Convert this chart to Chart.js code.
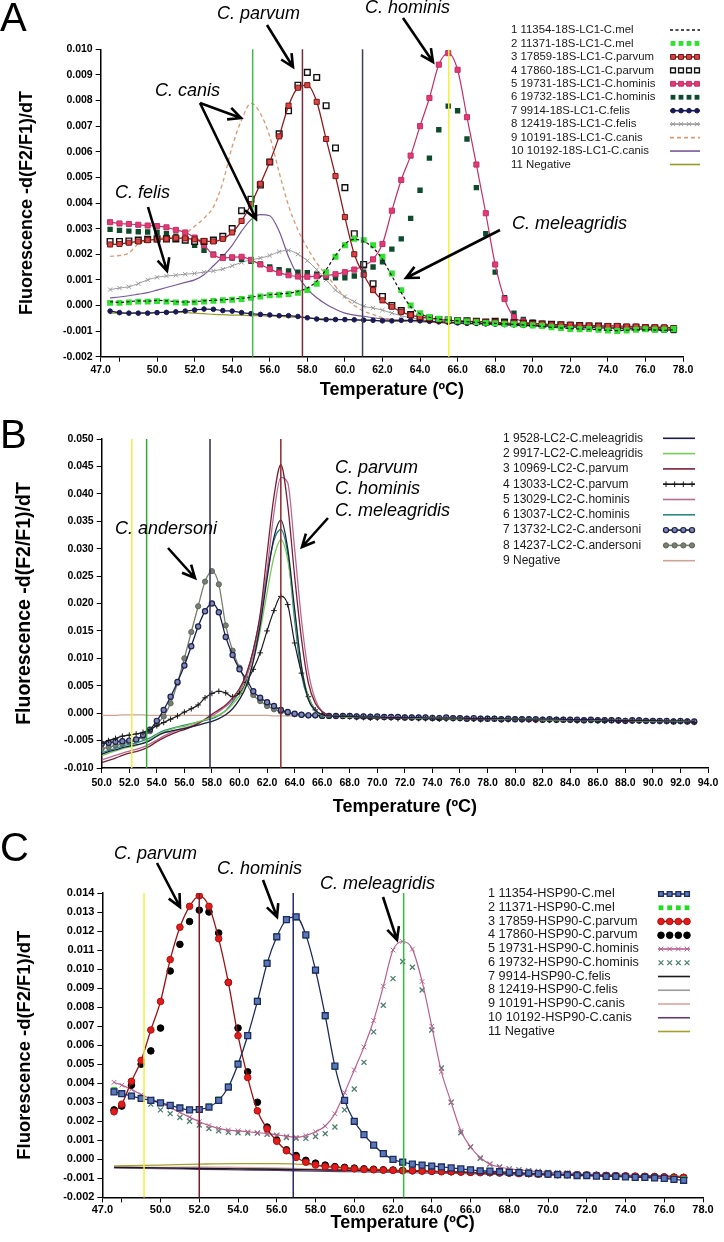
<!DOCTYPE html>
<html lang="en">
<head>
<meta charset="utf-8">
<title>Melting curve analysis</title>
<script src="https://cdn.jsdelivr.net/npm/chart.js@4.4.1/dist/chart.umd.min.js"></script>
<style>
  html, body { margin: 0; padding: 0; background: #fff; }
  body { position: relative; width: 724px; height: 1242px; overflow: hidden;
         font-family: 'Liberation Sans', Arial, sans-serif; color: #000; }
  canvas { position: absolute; left: 0; }
  .letter { position: absolute; left: 0; font-size: 40px; line-height: 40px; }
  .note { position: absolute; font-style: italic; font-size: 18px; line-height: 20px; white-space: nowrap; }
  .legend { position: absolute; white-space: nowrap; color: #1a1a1a; }
</style>
</head>
<body>
<canvas id="chartA" width="724" height="420" style="top:0"></canvas>
<canvas id="chartB" width="724" height="410" style="top:420px"></canvas>
<canvas id="chartC" width="724" height="412" style="top:830px"></canvas>
<div class="letter" style="top:-3px">A</div>
<div class="letter" style="top:414px">B</div>
<div class="letter" style="top:827px">C</div>
<script>
// all curve values are -d(F2/F1)/dT, in units of 0.001

// ---------- Panel A : 18S LC1 ----------
const tempsA = [
  47.5, 48, 48.5, 49, 49.5, 50, 50.5, 51, 51.5, 52,
  52.5, 53, 53.5, 54, 54.5, 55, 55.5, 56, 56.5, 57,
  57.5, 58, 58.5, 59, 59.5, 60, 60.5, 61, 61.5, 62,
  62.5, 63, 63.5, 64, 64.5, 65, 65.5, 66, 66.5, 67,
  67.5, 68, 68.5, 69, 69.5, 70, 70.5, 71, 71.5, 72,
  72.5, 73, 73.5, 74, 74.5, 75, 75.5, 76, 76.5, 77,
  77.5
];
const labelsA = [
  '1 11354-18S-LC1-C.mel', '2 11371-18S-LC1-C.mel', '3 17859-18S-LC1-C.parvum',
  '4 17860-18S-LC1-C.parvum', '5 19731-18S-LC1-C.hominis', '6 19732-18S-LC1-C.hominis',
  '7 9914-18S-LC1-C.felis', '8 12419-18S-LC1-C.felis', '9 10191-18S-LC1-C.canis',
  '10 10192-18S-LC1-C.canis', '11 Negative'
];
const melA1 = [
  0.15, 0.12, 0.15, 0.18, 0.17, 0.20, 0.18, 0.15, 0.13, 0.15,
  0.18, 0.20, 0.22, 0.25, 0.28, 0.32, 0.38, 0.42, 0.45, 0.48,
  0.55, 0.68, 0.95, 1.40, 1.95, 2.40, 2.58, 2.50, 2.25, 1.80,
  1.15, 0.50, -0.05, -0.32, -0.46, -0.53, -0.57, -0.60, -0.63, -0.66,
  -0.68, -0.70, -0.72, -0.74, -0.76, -0.78, -0.82, -0.85, -0.88, -0.90,
  -0.92, -0.93, -0.95, -0.97, -0.98, -0.97, -0.95, -0.95, -0.96, -0.97,
  -0.95
];
const melA2 = [
  0.10, 0.10, 0.12, 0.15, 0.15, 0.17, 0.15, 0.12, 0.10, 0.12,
  0.15, 0.18, 0.20, 0.22, 0.25, 0.30, 0.35, 0.40, 0.42, 0.45,
  0.50, 0.60, 0.85, 1.30, 1.90, 2.35, 2.60, 2.55, 2.35, 1.90,
  1.25, 0.60, 0.00, -0.30, -0.45, -0.52, -0.56, -0.60, -0.62, -0.65,
  -0.68, -0.70, -0.72, -0.73, -0.75, -0.78, -0.80, -0.85, -0.88, -0.92,
  -0.93, -0.92, -0.95, -0.98, -1.00, -0.98, -0.95, -0.93, -0.95, -0.95,
  -0.92
];
const parvumA3 = [
  2.38, 2.40, 2.45, 2.50, 2.55, 2.58, 2.60, 2.64, 2.62, 2.58,
  2.52, 2.50, 2.60, 2.85, 3.30, 3.95, 4.75, 5.60, 6.60, 7.80,
  8.50, 8.60, 7.95, 6.50, 5.05, 3.45, 2.00, 1.20, 0.60, 0.20,
  -0.05, -0.25, -0.38, -0.45, -0.50, -0.55, -0.58, -0.60, -0.62, -0.62,
  -0.65, -0.65, -0.68, -0.70, -0.70, -0.72, -0.72, -0.75, -0.75, -0.75,
  -0.78, -0.78, -0.80, -0.80, -0.80, -0.82, -0.82, -0.85, -0.85, -0.85,
  -0.88
];
const parvumA4 = [
  2.50, 2.50, 2.52, 2.55, 2.58, 2.60, 2.60, 2.60, 2.55, 2.50,
  2.50, 2.55, 2.70, 3.00, 3.70, 4.15, 4.70, 5.60, 6.70, 7.60,
  8.60, 9.10, 8.90, 7.80, 6.15, 4.60, 2.80, 1.60, 0.85, 0.35,
  0.00, -0.20, -0.35, -0.45, -0.50, -0.55, -0.57, -0.60, -0.60, -0.62,
  -0.65, -0.62, -0.65, -0.68, -0.70, -0.70, -0.72, -0.73, -0.75, -0.77,
  -0.78, -0.80, -0.80, -0.82, -0.82, -0.85, -0.85, -0.87, -0.88, -0.90,
  -0.92
];
const hominisA5 = [
  3.25, 3.20, 3.18, 3.15, 3.12, 3.10, 3.05, 2.95, 2.85, 2.65,
  2.35, 1.98, 1.85, 1.88, 1.90, 1.78, 1.60, 1.42, 1.28, 1.18,
  1.13, 1.12, 1.14, 1.17, 1.22, 1.30, 1.40, 1.55, 1.80, 2.40,
  3.70, 4.90, 5.85, 7.00, 8.10, 9.40, 9.85, 9.20, 7.35, 5.50,
  3.60, 1.60, 0.25, -0.45, -0.62, -0.70, -0.72, -0.75, -0.77, -0.80,
  -0.80, -0.82, -0.82, -0.85, -0.85, -0.87, -0.88, -0.90, -0.90, -0.92,
  -0.93
];
const hominisA6 = [
  2.97, 2.93, 2.90, 2.88, 2.87, 2.86, 2.80, 2.70, 2.55, 2.35,
  2.15, 2.00, 1.90, 1.85, 1.80, 1.72, 1.62, 1.50, 1.40, 1.35,
  1.30, 1.28, 1.22, 1.10, 1.08, 1.08, 1.15, 1.30, 1.50, 1.70,
  2.20, 2.60, 3.40, 4.50, 5.75, 6.86, 7.78, 7.60, 6.50, 4.60,
  2.80, 1.30, 0.30, -0.30, -0.55, -0.65, -0.70, -0.72, -0.75, -0.78,
  -0.80, -0.82, -0.85, -0.85, -0.88, -0.90, -0.92, -0.92, -0.95, -0.97,
  -0.98
];
const felisA7 = [
  -0.22, -0.28, -0.30, -0.30, -0.30, -0.28, -0.27, -0.25, -0.22, -0.18,
  -0.14, -0.15, -0.20, -0.22, -0.28, -0.32, -0.35, -0.37, -0.40, -0.40,
  -0.43, -0.48, -0.53, -0.55, -0.55, -0.55, -0.56, -0.57, -0.58, -0.60,
  -0.60, -0.58, -0.58, -0.60, -0.62, -0.64, -0.66, -0.68, -0.70, -0.70,
  -0.72, -0.73, -0.75, -0.76, -0.78, -0.78, -0.80, -0.80, -0.82, -0.83,
  -0.85, -0.85, -0.86, -0.88, -0.88, -0.90, -0.90, -0.92, -0.93, -0.95,
  -0.96
];
const felisA8 = [
  0.62, 0.68, 0.73, 0.85, 1.00, 1.10, 1.15, 1.18, 1.22, 1.25,
  1.30, 1.35, 1.42, 1.55, 1.68, 1.78, 1.85, 1.95, 2.10, 2.15,
  2.00, 1.75, 1.40, 1.00, 0.60, 0.35, 0.15, -0.03, -0.10, -0.18,
  -0.30, -0.40, -0.48, -0.55, -0.60, -0.63, -0.65, -0.66, -0.68, -0.70,
  -0.70, -0.72, -0.73, -0.75, -0.76, -0.78, -0.80, -0.80, -0.82, -0.83,
  -0.85, -0.86, -0.88, -0.88, -0.90, -0.90, -0.92, -0.92, -0.93, -0.94,
  -0.95
];
const canisA9 = [
  1.92, 1.95, 2.05, 2.40, 2.55, 2.62, 2.65, 2.68, 2.80, 3.09,
  3.40, 3.85, 4.80, 6.20, 7.24, 7.89, 7.50, 6.60, 5.20, 3.90,
  2.95, 2.25, 1.66, 1.20, 0.75, 0.32, 0.00, -0.22, -0.35, -0.48,
  -0.55, -0.60, -0.62, -0.63, -0.66, -0.68, -0.69, -0.71, -0.72, -0.72,
  -0.74, -0.76, -0.76, -0.78, -0.79, -0.80, -0.80, -0.82, -0.83, -0.84,
  -0.85, -0.85, -0.87, -0.88, -0.88, -0.90, -0.90, -0.91, -0.92, -0.93,
  -0.94
];
const canisA10 = [
  0.30, 0.33, 0.38, 0.44, 0.50, 0.60, 0.70, 0.80, 0.90, 1.00,
  1.20, 1.55, 1.92, 2.35, 2.90, 3.35, 3.55, 3.50, 2.90, 1.90,
  1.15, 0.65, 0.30, 0.05, -0.15, -0.30, -0.38, -0.42, -0.48, -0.52,
  -0.55, -0.58, -0.60, -0.62, -0.63, -0.65, -0.67, -0.68, -0.70, -0.71,
  -0.72, -0.74, -0.75, -0.76, -0.78, -0.79, -0.80, -0.82, -0.83, -0.84,
  -0.85, -0.86, -0.88, -0.89, -0.90, -0.91, -0.92, -0.93, -0.94, -0.95,
  -0.96
];
const negativeA11 = [
  -0.30, -0.30, -0.30, -0.28, -0.28, -0.27, -0.26, -0.26, -0.28, -0.30,
  -0.32, -0.35, -0.36, -0.38, -0.38, -0.40, -0.40, -0.42, -0.42, -0.45,
  -0.46, -0.48, -0.50, -0.52, -0.54, -0.55, -0.56, -0.58, -0.58, -0.60,
  -0.60, -0.62, -0.62, -0.64, -0.65, -0.66, -0.68, -0.68, -0.70, -0.70,
  -0.72, -0.72, -0.74, -0.75, -0.76, -0.77, -0.78, -0.79, -0.80, -0.81,
  -0.82, -0.83, -0.84, -0.85, -0.86, -0.87, -0.88, -0.89, -0.90, -0.90,
  -0.91
];
const xTicksA = [47, 48, 50, 52, 54, 56, 58, 60, 62, 64, 66, 68, 70, 72, 74, 76, 78];
const yTicksA = [-0.002, -0.001, 0, 0.001, 0.002, 0.003, 0.004, 0.005, 0.006, 0.007, 0.008, 0.009, 0.010];
const markTempsA = [55.09, 57.74, 60.94, 65.53];

// ---------- Panel B : LC2 ----------
// plain lines use tempsB, marker curves use the finer tempsBmark
const tempsB = [
  50, 50.5, 51, 51.5, 52, 52.5, 53, 53.5, 54, 54.5,
  55, 55.5, 56, 56.5, 57, 57.5, 58, 58.5, 59, 59.5,
  60, 60.5, 61, 61.5, 62, 62.5, 63, 63.5, 64, 64.5,
  65, 65.5, 66, 66.5, 67,
  68, 69, 70, 71, 72, 73, 74, 75, 76, 77, 78, 79, 80,
  81, 82, 83, 84, 85, 86, 87, 88, 89, 90, 91, 92, 93
];
const tempsBmark = [
  50, 50.5, 51, 51.5, 52, 52.5, 53, 53.5, 54, 54.5,
  55, 55.5, 56, 56.5, 57, 57.5, 58, 58.5, 59, 59.5,
  60, 60.5, 61, 61.5, 62, 62.5, 63, 63.5, 64, 64.5,
  65, 65.5, 66, 66.5, 67,
  67.5, 68, 68.5, 69, 69.5, 70, 70.5, 71, 71.5, 72,
  72.5, 73, 73.5, 74, 74.5, 75, 75.5, 76, 76.5, 77,
  77.5, 78, 78.5, 79, 79.5, 80, 80.5, 81, 81.5, 82,
  82.5, 83, 83.5, 84, 84.5, 85, 85.5, 86, 86.5, 87,
  87.5, 88, 88.5, 89, 89.5, 90, 90.5, 91, 91.5, 92,
  92.5, 93
];
const labelsB = [
  '1 9528-LC2-C.meleagridis', '2 9917-LC2-C.meleagridis', '3 10969-LC2-C.parvum',
  '4 13033-LC2-C.parvum', '5 13029-LC2-C.hominis', '6 13037-LC2-C.hominis',
  '7 13732-LC2-C.andersoni', '8 14237-LC2-C.andersoni', '9 Negative'
];
const melB1 = [
  -7.5, -7.0, -6.7, -6.3, -6.0, -5.8, -5.5, -5.0, -4.2, -3.6,
  -3.3, -3.0, -2.8, -2.5, -2.2, -1.8, -1.5, -1.0, -0.3, 0.8,
  2.5, 5.0, 9.5, 16.0, 24.5, 32.0, 35.2, 30.0, 19.0, 8.5,
  2.5, 0.5, -0.3, -0.5, -0.6,
  -0.6, -0.7, -0.7, -0.8, -0.8, -0.8, -0.9, -0.9, -0.9, -1.0, -1.0, -1.0, -1.1,
  -1.1, -1.1, -1.1, -1.2, -1.2, -1.2, -1.3, -1.3, -1.3, -1.3, -1.4, -1.4, -1.5
];
const melB2 = [
  -7.8, -7.3, -6.9, -6.5, -6.2, -5.9, -5.4, -4.8, -4.0, -3.4,
  -3.0, -2.6, -2.4, -2.0, -1.6, -1.2, -0.8, -0.3, 0.4, 1.6,
  3.2, 5.5, 9.5, 15.0, 22.0, 28.5, 31.6, 28.0, 18.5, 8.5,
  3.0, 0.5, -0.4, -0.6, -0.6,
  -0.7, -0.7, -0.8, -0.8, -0.8, -0.9, -0.9, -1.0, -1.0, -1.0, -1.0, -1.1, -1.1,
  -1.1, -1.2, -1.2, -1.2, -1.2, -1.3, -1.3, -1.3, -1.4, -1.4, -1.4, -1.5, -1.5
];
const parvumB3 = [
  -9.0, -8.6, -8.2, -7.7, -7.3, -7.0, -6.6, -6.0, -5.2, -4.5,
  -3.9, -3.4, -3.0, -2.5, -1.9, -1.1, -0.2, 0.6, 1.5, 2.8,
  4.5, 7.2, 11.5, 18.0, 29.0, 39.5, 45.3, 38.0, 25.0, 13.5,
  5.5, 1.8, 0.3, -0.4, -0.6,
  -0.7, -0.8, -0.8, -0.8, -0.9, -0.9, -0.9, -1.0, -1.0, -1.1, -1.1, -1.1, -1.1,
  -1.2, -1.2, -1.2, -1.3, -1.3, -1.3, -1.3, -1.4, -1.4, -1.4, -1.5, -1.5, -1.6
];
const parvumB4 = [
  -5.5, -5.0, -4.6, -4.2, -4.0, -3.8, -3.5, -3.0, -2.3, -1.7,
  -1.1, -0.5, 0.2, 0.8, 1.5, 2.8, 3.6, 4.0, 3.7, 3.0,
  3.6, 5.6, 8.0, 11.0, 15.0, 18.7, 21.3, 19.8, 12.8, 7.3,
  3.0, 0.6, -0.3, -0.5, -0.6,
  -0.6, -0.7, -0.8, -0.8, -0.9, -0.9, -0.8, -0.9, -1.0, -0.8,
  -0.9, -1.0, -1.0, -1.0, -1.1, -1.1, -1.0, -1.0, -1.1, -1.1,
  -1.2, -1.1, -1.1, -1.2, -1.2, -1.1, -1.2, -1.2, -1.3, -1.2,
  -1.3, -1.3, -1.2, -1.3, -1.4, -1.3, -1.3, -1.4, -1.4, -1.3,
  -1.4, -1.5, -1.4, -1.4, -1.5, -1.5, -1.4, -1.5, -1.6, -1.5,
  -1.6, -1.7
];
const hominisB5 = [
  -8.5, -8.1, -7.7, -7.3, -6.9, -6.6, -6.2, -5.6, -4.9, -4.2,
  -3.6, -3.1, -2.7, -2.3, -1.8, -1.2, -0.5, 0.3, 1.2, 2.4,
  4.0, 6.5, 10.5, 16.5, 26.0, 36.5, 43.0, 42.0, 30.0, 17.0,
  7.5, 2.5, 0.3, -0.4, -0.6,
  -0.6, -0.7, -0.7, -0.7, -0.8, -0.8, -0.9, -0.9, -0.9, -1.0, -1.0, -1.0, -1.1,
  -1.1, -1.1, -1.2, -1.2, -1.2, -1.2, -1.3, -1.3, -1.3, -1.4, -1.4, -1.4, -1.5
];
const hominisB6 = [
  -7.2, -6.8, -6.4, -6.0, -5.7, -5.4, -5.0, -4.5, -3.8, -3.2,
  -2.8, -2.5, -2.2, -1.9, -1.6, -1.3, -1.0, -0.4, 0.5, 2.0,
  4.0, 7.0, 11.5, 17.5, 25.5, 31.5, 33.5, 29.0, 17.0, 7.0,
  2.5, 0.4, -0.4, -0.6, -0.6,
  -0.6, -0.7, -0.7, -0.8, -0.8, -0.9, -0.9, -0.9, -1.0, -1.0, -1.0, -1.1, -1.1,
  -1.1, -1.1, -1.2, -1.2, -1.2, -1.3, -1.3, -1.3, -1.3, -1.4, -1.4, -1.5, -1.5
];
const andersoniB7 = [
  -5.6, -5.4, -5.2, -5.1, -5.0, -4.8, -4.0, -3.0, -1.4, 0.6,
  3.0, 5.7, 8.7, 12.2, 15.8, 18.6, 20.0, 18.4, 13.9, 10.6,
  8.0, 6.2, 4.0, 2.8, 2.0, 1.3, 0.6, 0.2, -0.1, -0.3,
  -0.4, -0.4, -0.5, -0.5, -0.5,
  -0.5, -0.5, -0.6, -0.6, -0.7, -0.6, -0.7, -0.7, -0.7, -0.8,
  -0.8, -0.8, -0.8, -0.9, -0.9, -0.8, -0.9, -0.9, -1.0, -0.9,
  -1.0, -1.0, -1.0, -1.1, -1.0, -1.1, -1.1, -1.1, -1.1, -1.2,
  -1.1, -1.2, -1.2, -1.2, -1.2, -1.3, -1.2, -1.3, -1.3, -1.3,
  -1.3, -1.4, -1.3, -1.3, -1.4, -1.4, -1.4, -1.4, -1.5, -1.4,
  -1.5, -1.5
];
const andersoniB8 = [
  -6.5, -6.2, -5.9, -5.6, -5.3, -5.0, -4.3, -3.3, -2.0, -0.6,
  1.8, 5.5, 10.0, 14.8, 19.5, 24.0, 25.9, 23.5, 16.0, 11.4,
  8.3, 5.5, 3.3, 2.2, 1.3, 0.7, 0.3, 0.0, -0.2, -0.3,
  -0.4, -0.4, -0.5, -0.5, -0.5,
  -0.5, -0.5, -0.6, -0.6, -0.6, -0.7, -0.7, -0.7, -0.7, -0.8,
  -0.8, -0.8, -0.8, -0.8, -0.9, -0.9, -0.9, -0.9, -1.0, -1.0,
  -1.0, -1.0, -1.0, -1.1, -1.1, -1.1, -1.1, -1.1, -1.2, -1.2,
  -1.2, -1.2, -1.2, -1.2, -1.3, -1.3, -1.3, -1.3, -1.3, -1.3,
  -1.4, -1.4, -1.4, -1.4, -1.4, -1.4, -1.5, -1.5, -1.5, -1.5,
  -1.5, -1.6
];
const negativeB9 = [
  -0.4, -0.4, -0.4, -0.3, -0.3, -0.3, -0.3, -0.4, -0.4, -0.4,
  -0.4, -0.4, -0.4, -0.4, -0.4, -0.4, -0.4, -0.4, -0.4, -0.4,
  -0.4, -0.4, -0.4, -0.4, -0.4, -0.5, -0.5, -0.5, -0.5, -0.5,
  -0.5, -0.5, -0.5, -0.5, -0.6,
  -0.6, -0.6, -0.7, -0.7, -0.8, -0.8, -0.8, -0.9, -0.9, -0.9, -1.0, -1.0, -1.0,
  -1.1, -1.1, -1.1, -1.2, -1.2, -1.2, -1.2, -1.3, -1.3, -1.3, -1.4, -1.4, -1.4
];
const xTicksB = [50, 52, 54, 56, 58, 60, 62, 64, 66, 68, 70, 72, 74, 76, 78, 80, 82, 84, 86, 88, 90, 92, 94];
const yTicksB = [-0.010, -0.005, 0, 0.005, 0.010, 0.015, 0.020, 0.025, 0.030, 0.035, 0.040, 0.045, 0.050];
const markTempsB = [52.18, 53.26, 57.86, 63.0];

// ---------- Panel C : HSP90 ----------
const tempsC = [
  47.6, 48, 48.5, 49, 49.5, 50, 50.5, 51, 51.5, 52,
  52.5, 53, 53.5, 54, 54.5, 55, 55.5, 56, 56.5, 57,
  57.5, 58, 58.5, 59, 59.5, 60, 60.5, 61, 61.5, 62,
  62.5, 63, 63.5, 64, 64.5, 65, 65.5, 66, 66.5, 67,
  67.5, 68, 68.5, 69, 69.5, 70, 70.5, 71, 71.5, 72,
  72.5, 73, 73.5, 74, 74.5, 75, 75.5, 76, 76.5, 77
];
const tempsCflat = [47.6, 50, 52, 54, 56, 58, 60, 62, 64, 66, 68, 70, 72, 74, 76, 77];
const labelsC = [
  '1 11354-HSP90-C.mel', '2 11371-HSP90-C.mel', '3 17859-HSP90-C.parvum',
  '4 17860-HSP90-C.parvum', '5 19731-HSP90-C.hominis', '6 19732-HSP90-C.hominis',
  '7 9914-HSP90-C.felis', '8 12419-HSP90-C.felis', '9 10191-HSP90-C.canis',
  '10 10192-HSP90-C.canis', '11 Negative'
];
const melC1 = [
  3.55, 3.45, 3.33, 3.20, 3.10, 2.97, 2.84, 2.70, 2.60, 2.62,
  2.75, 3.10, 3.80, 5.00, 6.50, 8.30, 10.30, 11.70, 12.60, 12.75,
  11.80, 9.95, 7.55, 4.90, 3.10, 2.00, 1.30, 0.75, 0.30, 0.00,
  -0.15, -0.25, -0.30, -0.35, -0.40, -0.45, -0.50, -0.55, -0.60, -0.62,
  -0.65, -0.68, -0.70, -0.72, -0.75, -0.78, -0.80, -0.82, -0.85, -0.85,
  -0.88, -0.90, -0.90, -0.92, -0.95, -0.95, -0.98, -1.00, -1.05, -1.10
];
const melC2 = [
  3.65, 3.50, 3.35, 3.22, 3.10, 2.98, 2.85, 2.72, 2.62, 2.65,
  2.80, 3.15, 3.85, 5.05, 6.55, 8.35, 10.35, 11.75, 12.60, 12.70,
  11.75, 9.90, 7.50, 4.85, 3.10, 2.00, 1.30, 0.72, 0.28, -0.02,
  -0.18, -0.28, -0.33, -0.38, -0.42, -0.47, -0.52, -0.56, -0.60, -0.63,
  -0.66, -0.68, -0.72, -0.73, -0.76, -0.78, -0.80, -0.83, -0.84, -0.86,
  -0.87, -0.88, -0.90, -0.92, -0.93, -0.95, -0.96, -0.97, -1.00, -1.02
];
const parvumC3 = [
  2.50, 2.90, 4.10, 5.20, 6.80, 8.30, 10.50, 12.20, 13.30, 13.85,
  13.30, 11.60, 9.30, 6.50, 4.30, 2.55, 1.60, 0.95, 0.45, 0.10,
  -0.15, -0.30, -0.38, -0.42, -0.46, -0.50, -0.53, -0.55, -0.57, -0.58,
  -0.60, -0.60, -0.62, -0.63, -0.65, -0.65, -0.67, -0.68, -0.70, -0.70,
  -0.72, -0.72, -0.75, -0.75, -0.78, -0.78, -0.80, -0.80, -0.82, -0.82,
  -0.84, -0.85, -0.86, -0.87, -0.88, -0.90, -0.90, -0.92, -0.93, -0.95
];
const parvumC4 = [
  2.60, 2.80, 3.90, 5.00, 5.70, 6.90, 9.90, 11.30, 12.50, 13.10,
  13.00, 11.90, 9.30, 6.90, 4.60, 3.00, 1.70, 1.00, 0.50, 0.20,
  -0.05, -0.20, -0.30, -0.38, -0.42, -0.46, -0.50, -0.52, -0.55, -0.56,
  -0.58, -0.60, -0.60, -0.62, -0.63, -0.65, -0.66, -0.68, -0.68, -0.70,
  -0.70, -0.72, -0.73, -0.75, -0.76, -0.78, -0.80, -0.80, -0.82, -0.83,
  -0.84, -0.85, -0.87, -0.88, -0.90, -0.90, -0.92, -0.93, -0.94, -0.95
];
const hominisC5 = [
  4.05, 3.90, 3.68, 3.40, 3.18, 2.97, 2.72, 2.47, 2.22, 1.98,
  1.78, 1.63, 1.54, 1.50, 1.45, 1.40, 1.35, 1.29, 1.22, 1.16,
  1.25, 1.45, 1.75, 2.40, 3.50, 4.70, 5.90, 7.30, 9.10, 11.00,
  11.45, 11.05, 9.35, 7.00, 4.60, 3.00, 1.50, 0.65, 0.10, -0.25,
  -0.40, -0.50, -0.55, -0.60, -0.65, -0.68, -0.70, -0.72, -0.75, -0.78,
  -0.80, -0.82, -0.84, -0.85, -0.86, -0.88, -0.90, -0.90, -0.92, -0.93
];
const hominisC6 = [
  3.60, 3.45, 3.30, 3.15, 2.90, 2.60, 2.40, 2.20, 2.00, 1.80,
  1.62, 1.50, 1.42, 1.40, 1.38, 1.38, 1.32, 1.25, 1.15, 1.10,
  1.10, 1.20, 1.35, 1.70, 2.60, 3.70, 5.10, 6.70, 8.10, 9.50,
  10.40, 10.10, 8.90, 6.80, 4.80, 3.00, 1.40, 0.65, 0.05, -0.25,
  -0.40, -0.50, -0.55, -0.60, -0.64, -0.68, -0.70, -0.72, -0.75, -0.78,
  -0.80, -0.82, -0.83, -0.85, -0.87, -0.88, -0.90, -0.91, -0.93, -0.95
];
const felisC7 = [-0.42, -0.45, -0.48, -0.50, -0.52, -0.55, -0.58, -0.60, -0.65, -0.70, -0.75, -0.80, -0.83, -0.86, -0.90, -0.92];
const felisC8 = [-0.45, -0.45, -0.45, -0.48, -0.50, -0.55, -0.60, -0.65, -0.70, -0.72, -0.78, -0.80, -0.82, -0.85, -0.88, -0.90];
const canisC9 = [-0.40, -0.42, -0.40, -0.42, -0.45, -0.50, -0.55, -0.60, -0.65, -0.70, -0.75, -0.78, -0.82, -0.85, -0.88, -0.90];
const canisC10 = [-0.45, -0.48, -0.52, -0.55, -0.58, -0.62, -0.65, -0.68, -0.72, -0.75, -0.80, -0.82, -0.85, -0.88, -0.90, -0.92];
const negativeC11 = [-0.35, -0.30, -0.25, -0.22, -0.22, -0.30, -0.45, -0.55, -0.62, -0.70, -0.75, -0.78, -0.80, -0.85, -0.88, -0.90];
const xTicksC = [47, 48, 50, 52, 54, 56, 58, 60, 62, 64, 66, 68, 70, 72, 74, 76, 78];
const yTicksC = [-0.002, -0.001, 0, 0.001, 0.002, 0.003, 0.004, 0.005, 0.006, 0.007, 0.008,
                 0.009, 0.010, 0.011, 0.012, 0.013, 0.014];
const markTempsC = [49.15, 52.0, 56.85, 62.55];

// ---------- styles ----------
const stylesA = [
  { color: '#111111', dash: [3, 2.5], width: 1.2 },
  { color: '#2fe02f', line: false, point: 'rect', r: 4.2, pw: 0 },
  { color: '#8b1c1c', point: 'rect', r: 3.6, fill: '#d94545', edge: '#7a1414', width: 1.3 },
  { color: '#111111', line: false, point: 'rect', r: 4.0, fill: '#ffffff', edge: '#111111', pw: 1.4 },
  { color: '#c42e66', point: 'rect', r: 3.6, fill: '#e23a72', edge: '#c42e66', width: 1.2 },
  { color: '#0e4a2c', line: false, point: 'rect', r: 3.8, pw: 0 },
  { color: '#1a1a55', point: 'circle', r: 2.3, width: 1.2 },
  { color: '#9a9a9a', point: 'crossRot', r: 3, width: 1 },
  { color: '#d99a72', dash: [4, 3], width: 1.3 },
  { color: '#76579a', width: 1.2 },
  { color: '#9a9a2a', width: 1.2 }
];
const stylesB = [
  { color: '#1d1d45', width: 1.3 },
  { color: '#77cc55', width: 1.3 },
  { color: '#7a1f33', width: 1.3 },
  { color: '#1a1a1a', point: 'cross', r: 2.8, width: 1.2 },
  { color: '#b86a90', width: 1.3 },
  { color: '#2a8a82', width: 1.3 },
  { color: '#1c2050', point: 'circle', r: 2.6, fill: '#7f88b0', edge: '#1c2050', width: 1.3, pw: 1.2 },
  { color: '#77806e', point: 'circle', r: 2.6, fill: '#767f70', edge: '#5d6658', width: 1.3 },
  { color: '#cfa394', width: 1.3 }
];
const stylesC = [
  { color: '#1c2a60', point: 'rect', r: 4.2, fill: '#5a78b8', edge: '#1c2a60', width: 1.3, pw: 1.3 },
  { color: '#22dd22', line: false, point: 'rect', r: 4.0, pw: 0 },
  { color: '#9c1111', point: 'circle', r: 3.3, fill: '#e01c1c', edge: '#b01010', width: 1.3 },
  { color: '#000000', line: false, point: 'circle', r: 3.3 },
  { color: '#b8608e', point: 'crossRot', r: 3.3, width: 1.2 },
  { color: '#4c7d6e', line: false, point: 'crossRot', r: 3.5, pw: 1.3 },
  { color: '#1a1a1a', width: 1.3 },
  { color: '#9a9a9a', width: 1.3 },
  { color: '#dca4a0', width: 1.3 },
  { color: '#5c3b78', width: 1.3 },
  { color: '#a6a02a', width: 1.3 }
];

function dataset(label, xs, ys, st) {
  const hasPoint = !!st.point;
  return {
    label: label,
    data: xs.map((x, i) => ({ x: x, y: ys[i] / 1000 })),
    showLine: st.line !== false,
    borderColor: st.color,
    backgroundColor: st.color,
    borderWidth: st.width || 1.2,
    borderDash: st.dash || [],
    pointStyle: hasPoint ? st.point : false,
    pointRadius: hasPoint ? st.r : 0,
    pointBackgroundColor: st.fill || st.color,
    pointBorderColor: st.edge || st.color,
    pointBorderWidth: st.pw == null ? 1 : st.pw,
    cubicInterpolationMode: 'monotone',
    fill: false
  };
}

// reference lines, annotation arrows and legend swatches
function decor(p) {
  return {
    id: 'decor',
    afterDatasetsDraw(chart) {
      const ctx = chart.ctx, a = chart.chartArea, x = chart.scales.x;
      ctx.save();
      ctx.lineWidth = 1.5;
      p.markTemps.forEach((t, i) => {
        const px = x.getPixelForValue(t);
        ctx.strokeStyle = p.markColors[i];
        ctx.beginPath();
        ctx.moveTo(px, a.top);
        ctx.lineTo(px, a.bottom);
        ctx.stroke();
      });
      ctx.restore();
    },
    afterDraw(chart) {
      const ctx = chart.ctx;
      ctx.save();
      ctx.strokeStyle = '#000';
      ctx.lineWidth = 2.6;
      p.arrows.forEach(([x0, y0, x1, y1]) => {
        const ang = Math.atan2(y1 - y0, x1 - x0), h = 14, s = 0.45;
        ctx.beginPath();
        ctx.moveTo(x0, y0);
        ctx.lineTo(x1, y1);
        ctx.moveTo(x1 - h * Math.cos(ang - s), y1 - h * Math.sin(ang - s));
        ctx.lineTo(x1, y1);
        ctx.lineTo(x1 - h * Math.cos(ang + s), y1 - h * Math.sin(ang + s));
        ctx.stroke();
      });

      const L = p.legend;
      chart.data.datasets.forEach((ds, i) => {
        const y = L.y0 + i * L.dy;
        if (ds.showLine !== false) {
          ctx.setLineDash(ds.borderDash || []);
          ctx.strokeStyle = ds.borderColor;
          ctx.lineWidth = 1.6;
          ctx.beginPath();
          ctx.moveTo(L.x0, y);
          ctx.lineTo(L.x1, y);
          ctx.stroke();
          ctx.setLineDash([]);
        }
        if (ds.pointStyle) {
          for (let k = 0; k < 4; k++) {
            const px = L.x0 + 3 + k * (L.x1 - L.x0 - 6) / 3;
            ctx.fillStyle = ds.pointBackgroundColor;
            ctx.strokeStyle = ds.pointBorderColor;
            ctx.lineWidth = ds.pointBorderWidth;
            Chart.helpers.drawPoint(ctx, {
              pointStyle: ds.pointStyle, rotation: 0,
              radius: Math.min(ds.pointRadius, 3.4), borderWidth: ds.pointBorderWidth
            }, px, y);
          }
        }
      });
      ctx.restore();
    }
  };
}

function fmt3(v) { return Math.abs(v) < 1e-9 ? '0.000' : v.toFixed(3); }

function makeChart(id, p) {
  const tickFont = { family: p.tickFamily, size: p.tickSize, weight: 'bold' };
  const titleFont = { family: "'Liberation Sans', Arial, sans-serif", size: 18, weight: 'bold' };
  return new Chart(document.getElementById(id), {
    type: 'line',
    data: { datasets: p.datasets },
    options: {
      responsive: false,
      animation: false,
      devicePixelRatio: 1,
      events: [],
      layout: { padding: p.padding },
      plugins: { legend: { display: false }, tooltip: { enabled: false } },
      scales: {
        x: {
          type: 'linear', min: p.xMin, max: p.xMax,
          afterBuildTicks: s => { s.ticks = p.xTicks.map(v => ({ value: v })); },
          afterFit: s => { s.height = p.xHeight; s.paddingLeft = 0; s.paddingRight = 0; },
          ticks: {
            autoSkip: false, maxRotation: 0, padding: p.xTickPad, color: '#000', font: tickFont,
            callback: v => (p.xBlank.includes(v) ? '' : v.toFixed(1))
          },
          grid: { drawOnChartArea: false, tickLength: 5, color: '#000', lineWidth: 1 },
          border: { color: '#000', width: 1.5 },
          title: {
            display: true, text: 'Temperature (ºC)', color: '#000', font: titleFont,
            padding: { top: 0, bottom: p.xTitlePad }
          }
        },
        y: {
          min: p.yMin, max: p.yMax,
          afterBuildTicks: s => { s.ticks = p.yTicks.map(v => ({ value: v })); },
          afterFit: s => { s.width = p.yWidth; s.paddingTop = 0; s.paddingBottom = 0; },
          ticks: { padding: 3, color: '#000', font: tickFont, callback: fmt3 },
          grid: { drawOnChartArea: false, tickLength: 5, color: '#000', lineWidth: 1 },
          border: { color: '#000', width: 1.5 },
          title: {
            display: true, text: 'Fluorescence -d(F2/F1)/dT', color: '#000',
            font: Object.assign({}, titleFont, { size: p.yTitleSize }),
            padding: { top: p.yTitlePad, bottom: 0 }
          }
        }
      }
    },
    plugins: [decor(p)]
  });
}

function buildDatasets(labels, series, styles) {
  return series.map((s, i) => dataset(labels[i], s[0], s[1], styles[i]));
}

makeChart('chartA', {
  datasets: buildDatasets(labelsA, [
    [tempsA, melA1], [tempsA, melA2], [tempsA, parvumA3], [tempsA, parvumA4],
    [tempsA, hominisA5], [tempsA, hominisA6], [tempsA, felisA7], [tempsA, felisA8],
    [tempsA, canisA9], [tempsA, canisA10], [tempsA, negativeA11]
  ], stylesA),
  xMin: 47, xMax: 78, xTicks: xTicksA, xBlank: [48],
  yMin: -0.002, yMax: 0.010, yTicks: yTicksA,
  padding: { left: 0, right: 41, top: 49.3, bottom: 13.3 },
  yWidth: 100.7, xHeight: 50, xTickPad: 2, xTitlePad: 5.9, yTitlePad: 16.2, yTitleSize: 18,
  tickFamily: "'Liberation Sans', Arial, sans-serif", tickSize: 10.5,
  markTemps: markTempsA, markColors: ['#44b84a', '#7a2a3a', '#3c3c5c', '#f2f23a'],
  arrows: [[267, 25, 293, 67], [403, 18, 433, 62], [200, 103, 241, 118], [200, 103, 256, 219],
           [148, 207, 167, 271], [500, 230, 406, 278]],
  legend: { x0: 670, x1: 700, y0: 30, dy: 13.45 }
});

makeChart('chartB', {
  datasets: buildDatasets(labelsB, [
    [tempsB, melB1], [tempsB, melB2], [tempsB, parvumB3], [tempsBmark, parvumB4],
    [tempsB, hominisB5], [tempsB, hominisB6], [tempsBmark, andersoniB7], [tempsBmark, andersoniB8],
    [tempsB, negativeB9]
  ], stylesB),
  xMin: 50, xMax: 94, xTicks: xTicksB, xBlank: [],
  yMin: -0.010, yMax: 0.050, yTicks: yTicksB,
  padding: { left: 0, right: 16, top: 19, bottom: 12 },
  yWidth: 101.7, xHeight: 50, xTickPad: 4, xTitlePad: 0.2, yTitlePad: 13.3, yTitleSize: 19.5,
  tickFamily: "'Liberation Sans Narrow', 'Liberation Sans', Arial, sans-serif", tickSize: 10.5,
  markTemps: markTempsB, markColors: ['#eeee44', '#33aa33', '#2a2a55', '#8a2a2a'],
  arrows: [[168, 128, 195, 158], [328, 98, 302, 127]],
  legend: { x0: 663, x1: 695, y0: 18.3, dy: 15.3 }
});

makeChart('chartC', {
  datasets: buildDatasets(labelsC, [
    [tempsC, melC1], [tempsC, melC2], [tempsC, parvumC3], [tempsC, parvumC4],
    [tempsC, hominisC5], [tempsC, hominisC6], [tempsCflat, felisC7], [tempsCflat, felisC8],
    [tempsCflat, canisC9], [tempsCflat, canisC10], [tempsCflat, negativeC11]
  ], stylesC),
  xMin: 47, xMax: 78, xTicks: xTicksC, xBlank: [48],
  yMin: -0.002, yMax: 0.014, yTicks: yTicksC,
  padding: { left: 0, right: 21, top: 63, bottom: 4.6 },
  yWidth: 102.4, xHeight: 40, xTickPad: 1, xTitlePad: 3.6, yTitlePad: 14, yTitleSize: 18.4,
  tickFamily: "'Liberation Sans', Arial, sans-serif", tickSize: 11,
  markTemps: markTempsC, markColors: ['#f0f040', '#7a1a2a', '#2a2a6a', '#30c040'],
  arrows: [[157, 33, 180, 77], [263, 50, 277, 87], [383, 67, 397, 110]],
  legend: { x0: 658, x1: 690, y0: 64, dy: 13.75 }
});

// legends (text) and species annotations
const legendBoxes = [
  { labels: labelsA, left: 511, center: 30, dy: 13.45, size: 11.4 },
  { labels: labelsB, left: 503, center: 438.3, dy: 15.3, size: 12 },
  { labels: labelsC, left: 488, center: 894, dy: 13.75, size: 12.7 }
];
legendBoxes.forEach(b => {
  const box = document.createElement('div');
  box.className = 'legend';
  box.style.left = b.left + 'px';
  box.style.top = (b.center - b.dy / 2) + 'px';
  box.style.fontSize = b.size + 'px';
  b.labels.forEach(t => {
    const row = document.createElement('div');
    row.style.height = b.dy + 'px';
    row.style.lineHeight = b.dy + 'px';
    row.textContent = t;
    box.appendChild(row);
  });
  document.body.appendChild(box);
});

const notes = [
  ['C. parvum', 217, 3], ['C. hominis', 365, -3], ['C. canis', 155, 80],
  ['C. felis', 115, 182], ['C. meleagridis', 512, 213],
  ['C. parvum', 335, 457], ['C. hominis', 335, 478], ['C. meleagridis', 335, 500],
  ['C. andersoni', 115, 518],
  ['C. parvum', 114, 843], ['C. hominis', 217, 858], ['C. meleagridis', 320, 873]
];
notes.forEach(([t, x, y]) => {
  const d = document.createElement('div');
  d.className = 'note';
  d.textContent = t;
  d.style.left = x + 'px';
  d.style.top = y + 'px';
  document.body.appendChild(d);
});
</script>
</body>
</html>
